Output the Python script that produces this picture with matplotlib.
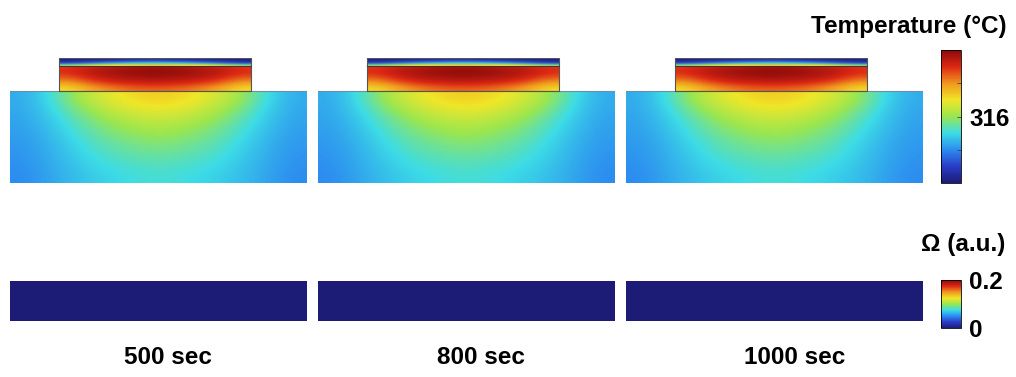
import numpy as np
import matplotlib
matplotlib.use("Agg")
import matplotlib.pyplot as plt
import matplotlib.colors as mcolors

plt.rcParams['font.family'] = ['Liberation Sans', 'DejaVu Sans']

# ---- data (fraction of colour range) ----
times = ["500 sec", "800 sec", "1000 sec"]

# thin top layer of the block, rows top -> bottom
layer_top = [
    [0.02, 0.03, 0.04, 0.05, 0.06, 0.05, 0.04, 0.03, 0.02],
    [0.05, 0.08, 0.12, 0.15, 0.17, 0.15, 0.12, 0.08, 0.05],
    [0.14, 0.22, 0.30, 0.35, 0.38, 0.35, 0.30, 0.22, 0.14],
    [0.45, 0.55, 0.62, 0.65, 0.68, 0.65, 0.62, 0.55, 0.45],
]
# main body of the block
block = [
    [0.86, 0.91, 0.94, 0.96, 0.97, 0.96, 0.94, 0.91, 0.86],
    [0.87, 0.93, 0.96, 0.98, 0.99, 0.98, 0.96, 0.93, 0.87],
    [0.83, 0.90, 0.94, 0.96, 0.97, 0.96, 0.94, 0.90, 0.83],
    [0.77, 0.85, 0.90, 0.92, 0.93, 0.92, 0.90, 0.85, 0.77],
    [0.70, 0.78, 0.83, 0.86, 0.87, 0.86, 0.83, 0.78, 0.70],
    [0.64, 0.72, 0.77, 0.80, 0.81, 0.80, 0.77, 0.72, 0.64],
]
# substrate
substrate = [
    [0.30, 0.38, 0.52, 0.60, 0.65, 0.67, 0.65, 0.60, 0.52, 0.38, 0.30],
    [0.29, 0.35, 0.44, 0.52, 0.57, 0.59, 0.57, 0.52, 0.44, 0.35, 0.29],
    [0.28, 0.33, 0.40, 0.46, 0.50, 0.52, 0.50, 0.46, 0.40, 0.33, 0.28],
    [0.27, 0.31, 0.37, 0.42, 0.45, 0.47, 0.45, 0.42, 0.37, 0.31, 0.27],
    [0.26, 0.30, 0.35, 0.39, 0.41, 0.42, 0.41, 0.39, 0.35, 0.30, 0.26],
    [0.25, 0.29, 0.33, 0.36, 0.38, 0.39, 0.38, 0.36, 0.33, 0.29, 0.25],
]
omega = [[0.0, 0.0], [0.0, 0.0]]

temp_ticks = [0.25, 0.5, 0.75]
temp_ticklabels = ["", "316", ""]
omega_ticks = [0, 0.2]
omega_ticklabels = ["0", "0.2"]

# rainbow as seen in the colour bars
rainbow = ['#1c1c76', '#2a3cc8', '#2c8cf0', '#3cdce6', '#9ae650',
           '#f0e628', '#f0961e', '#dc2814', '#8c0a0a']

W, H = 1016, 377
fig = plt.figure(figsize=(W / 100, H / 100), dpi=100)

def px_axes(x0, y0, x1, y1):
    # pixel box (top-left origin) -> figure axes
    return fig.add_axes([x0 / W, 1 - y1 / H, (x1 - x0) / W, (y1 - y0) / H])

cmap = mcolors.LinearSegmentedColormap.from_list('rainbow_c', rainbow)
norm = mcolors.Normalize(0, 1)
edge = '#555555'
lefts = [10, 318, 626]
label_x = [168, 481, 795]

for k, L in enumerate(lefts):
    ax = px_axes(L, 58, L + 297, 183)
    ax.set_xlim(0, 297)
    ax.set_ylim(0, 125)
    ax.axis('off')
    ax.imshow(substrate, cmap=cmap, norm=norm, extent=(0, 297, 0, 92),
              interpolation='bicubic', aspect='auto')
    ax.imshow(block, cmap=cmap, norm=norm, extent=(49, 241, 92, 117),
              interpolation='bicubic', aspect='auto')
    ax.imshow(layer_top, cmap=cmap, norm=norm, extent=(49, 241, 117, 125),
              interpolation='bicubic', aspect='auto')
    ax.plot([0, 297], [92, 92], color='#6a8fa8', lw=0.8)
    ax.plot([49, 49, 241, 241, 49], [92, 125, 125, 92, 92], color=edge, lw=0.8)
    ax.plot([49, 241], [117, 117], color='#333333', lw=0.6)

    ax2 = px_axes(L, 281, L + 297, 321)
    ax2.axis('off')
    ax2.imshow(omega, cmap=cmap, vmin=0, vmax=0.2, extent=(0, 1, 0, 1),
               aspect='auto')

    fig.text(label_x[k] / W, 1 - 358 / H, times[k], fontsize=17.5,
             fontweight='bold', ha='center', va='center')

# temperature colorbar
cax = px_axes(941, 50, 961, 183)
cb = fig.colorbar(plt.cm.ScalarMappable(norm=norm, cmap=cmap), cax=cax)
cb.set_ticks(temp_ticks)
cb.set_ticklabels(temp_ticklabels)
cb.ax.tick_params(direction='in', length=3, width=0.6, color='#444444',
                  labelsize=17.5, pad=6)
for t in cb.ax.get_yticklabels():
    t.set_fontweight('bold')
cb.outline.set_linewidth(0.6)
fig.text(1007 / W, 1 - 27 / H, "Temperature (°C)", fontsize=17.5,
         fontweight='bold', ha='right', va='center')

# omega colorbar
oax = px_axes(941, 280, 961, 328)
cb2 = fig.colorbar(plt.cm.ScalarMappable(norm=mcolors.Normalize(0, 0.2), cmap=cmap),
                   cax=oax)
cb2.set_ticks(omega_ticks)
cb2.set_ticklabels(omega_ticklabels)
cb2.ax.tick_params(length=0, labelsize=17.5, pad=6)
for t in cb2.ax.get_yticklabels():
    t.set_fontweight('bold')
cb2.outline.set_linewidth(0.6)
fig.text(1005 / W, 1 - 245 / H, "Ω (a.u.)", fontsize=17.5,
         fontweight='bold', ha='right', va='center')

fig.savefig("out.png", dpi=100)
